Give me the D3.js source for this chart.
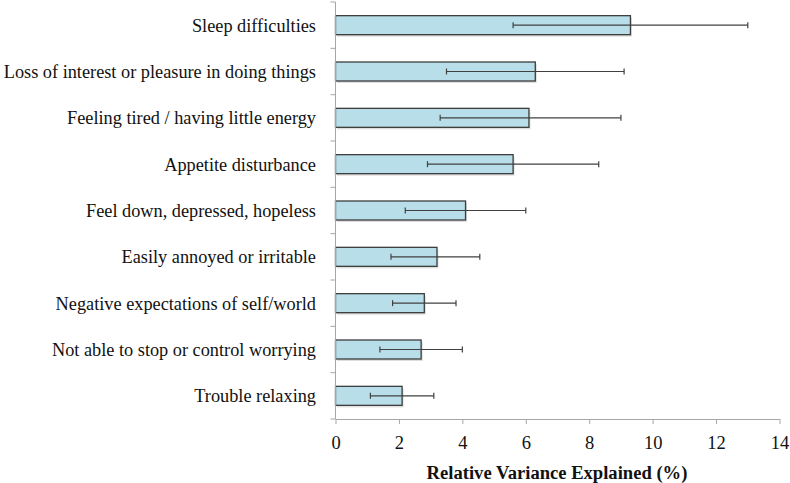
<!DOCTYPE html>
<html>
<head>
<meta charset="utf-8">
<script src="https://cdn.jsdelivr.net/npm/d3@7/dist/d3.min.js"></script>
<style>
  html, body { margin: 0; padding: 0; background: #ffffff; }
  svg { display: block; }
</style>
</head>
<body>
<svg id="chart" width="790" height="483"></svg>
<script>
const categories = [
  "Sleep difficulties",
  "Loss of interest or pleasure in doing things",
  "Feeling tired / having little energy",
  "Appetite disturbance",
  "Feel down, depressed, hopeless",
  "Easily annoyed or irritable",
  "Negative expectations of self/world",
  "Not able to stop or control worrying",
  "Trouble relaxing"
];
const values = [9.3, 6.3, 6.1, 5.6, 4.1, 3.2, 2.8, 2.7, 2.1];
const lowerCI = [5.6, 3.5, 3.3, 2.9, 2.2, 1.75, 1.8, 1.4, 1.1];
const upperCI = [13.0, 9.1, 9.0, 8.3, 6.0, 4.55, 3.8, 4.0, 3.1];
const xTicks = [0, 2, 4, 6, 8, 10, 12, 14];
const xTitle = "Relative Variance Explained (%)";

const svg = d3.select("#chart");
const font = "Liberation Serif";
const axisColor = "#a6a6a6";

const x = d3.scaleLinear().domain([0, 14]).range([335.5, 779.5]);
const y = d3.scaleBand().domain(categories).range([2, 419])
  .paddingInner(0.59).paddingOuter(0.295);
const step = y.step();

// Bar shadows
svg.append("g").selectAll("rect")
  .data(categories)
  .join("rect")
  .attr("x", x(0) + 1.5)
  .attr("y", d => y(d) + 2)
  .attr("width", (d, i) => x(values[i]) - x(0))
  .attr("height", y.bandwidth())
  .attr("fill", "#cfcfcf")
  .attr("opacity", 0.7);

// Bars
svg.append("g").selectAll("rect")
  .data(categories)
  .join("rect")
  .attr("x", x(0))
  .attr("y", d => y(d))
  .attr("width", (d, i) => x(values[i]) - x(0))
  .attr("height", y.bandwidth())
  .attr("fill", "#b8dfe9")
  .attr("stroke", "#3d3d3d")
  .attr("stroke-width", 1.3);

// Error bars
const eb = svg.append("g").attr("stroke", "#404040").attr("stroke-width", 1.2);
categories.forEach((c, i) => {
  const cy = y(c) + y.bandwidth() / 2;
  eb.append("line").attr("x1", x(lowerCI[i])).attr("x2", x(upperCI[i])).attr("y1", cy).attr("y2", cy);
  eb.append("line").attr("x1", x(lowerCI[i])).attr("x2", x(lowerCI[i])).attr("y1", cy - 3).attr("y2", cy + 3);
  eb.append("line").attr("x1", x(upperCI[i])).attr("x2", x(upperCI[i])).attr("y1", cy - 3).attr("y2", cy + 3);
});

// Y axis line and boundary ticks
const yAxisG = svg.append("g").attr("stroke", axisColor).attr("stroke-width", 1);
yAxisG.append("line").attr("x1", x(0)).attr("x2", x(0)).attr("y1", 2).attr("y2", 419);
const boundaries = [2].concat(categories.map(c => y(c) + y.bandwidth() + (step - y.bandwidth()) / 2));
yAxisG.selectAll("line.tick").data(boundaries).join("line")
  .attr("class", "tick")
  .attr("x1", x(0) - 5).attr("x2", x(0))
  .attr("y1", d => d).attr("y2", d => d);

// Category labels
svg.append("g").selectAll("text")
  .data(categories)
  .join("text")
  .attr("x", 316)
  .attr("y", d => y(d) + y.bandwidth() / 2)
  .attr("dy", "0.35em")
  .attr("text-anchor", "end")
  .style("font-family", font)
  .attr("font-size", 18.3)
  .attr("fill", "#111")
  .text(d => d);

// X axis
const xAxis = d3.axisBottom(x).tickValues(xTicks).tickSize(5).tickSizeOuter(0).tickFormat(d3.format("d"));
const xg = svg.append("g").attr("transform", "translate(0,419)").call(xAxis);
xg.attr("font-family", null).attr("font-size", null);
xg.select(".domain").attr("stroke", axisColor);
xg.selectAll(".tick line").attr("stroke", axisColor);
xg.selectAll(".tick text")
  .attr("dy", null)
  .attr("y", 30)
  .style("font-family", font)
  .attr("font-size", 18.5)
  .attr("fill", "#111");

// X title
svg.append("text")
  .attr("x", 557)
  .attr("y", 479)
  .attr("text-anchor", "middle")
  .style("font-family", font)
  .attr("font-size", 18.6)
  .attr("font-weight", "bold")
  .attr("fill", "#111")
  .text(xTitle);
</script>
</body>
</html>
